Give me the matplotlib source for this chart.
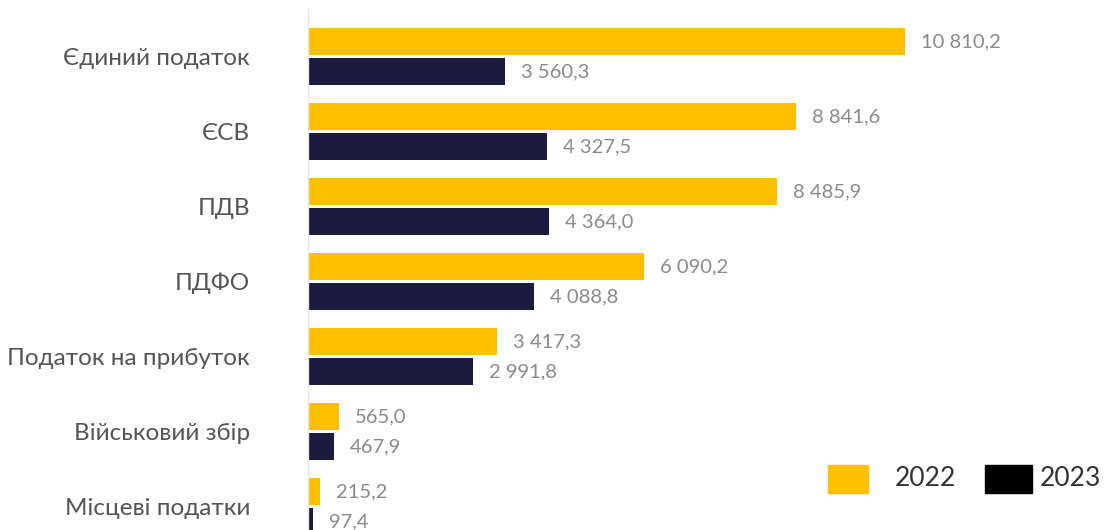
import matplotlib
matplotlib.use("Agg")
import matplotlib.pyplot as plt
from matplotlib.patches import Rectangle
import numpy as np

categories = ["Єдиний податок", "ЄСВ", "ПДВ", "ПДФО",
              "Податок на прибуток", "Військовий збір", "Місцеві податки"]
values_2022 = [10810.2, 8841.6, 8485.9, 6090.2, 3417.3, 565.0, 215.2]
values_2023 = [3560.3, 4327.5, 4364.0, 4088.8, 2991.8, 467.9, 97.4]
years = ["2022", "2023"]

YELLOW = "#FFC000"
NAVY = "#1C1A3D"
FONT = "Lato"


def fmt(v):
    s = f"{v:,.1f}"
    return s.replace(",", " ").replace(".", ",")


W, H = 1109, 530
fig = plt.figure(figsize=(W / 100, H / 100), dpi=100)
ax = fig.add_axes([308 / W, 0, 801 / W, 1])

px_per_unit = 0.05523
ax.set_xlim(0, 801 / px_per_unit)
ax.set_ylim((530 - 56.5) / 75, -56.5 / 75)

y = np.arange(len(categories))
bh = 0.36
off = 0.2
b1 = ax.barh(y - off, values_2022, height=bh, color=YELLOW, label=years[0])
b2 = ax.barh(y + off, values_2023, height=bh, color=NAVY, label=years[1])

for bars, vals in ((b1, values_2022), (b2, values_2023)):
    for rect, v in zip(bars, vals):
        ax.annotate(fmt(v), xy=(v, rect.get_y() + rect.get_height() / 2),
                    xytext=(11.5, 0), textcoords="offset points",
                    ha="left", va="center", fontsize=14.5, color="#8a8a8a",
                    family=FONT, fontweight="normal")

ax.set_yticks(y)
ax.set_yticklabels(categories, fontsize=17.5, color="#555555",
                   family=FONT, fontweight="normal")
ax.tick_params(axis="y", length=0, pad=41.8)
ax.tick_params(axis="x", bottom=False, labelbottom=False)
for side in ("top", "right", "bottom"):
    ax.spines[side].set_visible(False)
ax.spines["left"].set_color("#e6e6e6")
ax.spines["left"].set_linewidth(1.0)
ax.spines["left"].set_bounds(-0.64, (530 - 56.5) / 75)

# legend drawn as swatches in figure pixels
def swatch(x0, x1, color):
    fig.add_artist(Rectangle((x0 / W, 1 - 493 / H), (x1 - x0) / W, 28 / H,
                             transform=fig.transFigure, color=color))

swatch(828, 868, YELLOW)
fig.text(895 / W, 1 - 479 / H, years[0], ha="left", va="center",
         fontsize=19, color="#333333", family=FONT)
swatch(985, 1032, "#000000")
fig.text(1040 / W, 1 - 479 / H, years[1], ha="left", va="center",
         fontsize=19, color="#333333", family=FONT)

fig.savefig("out.png", dpi=100, facecolor="white")
